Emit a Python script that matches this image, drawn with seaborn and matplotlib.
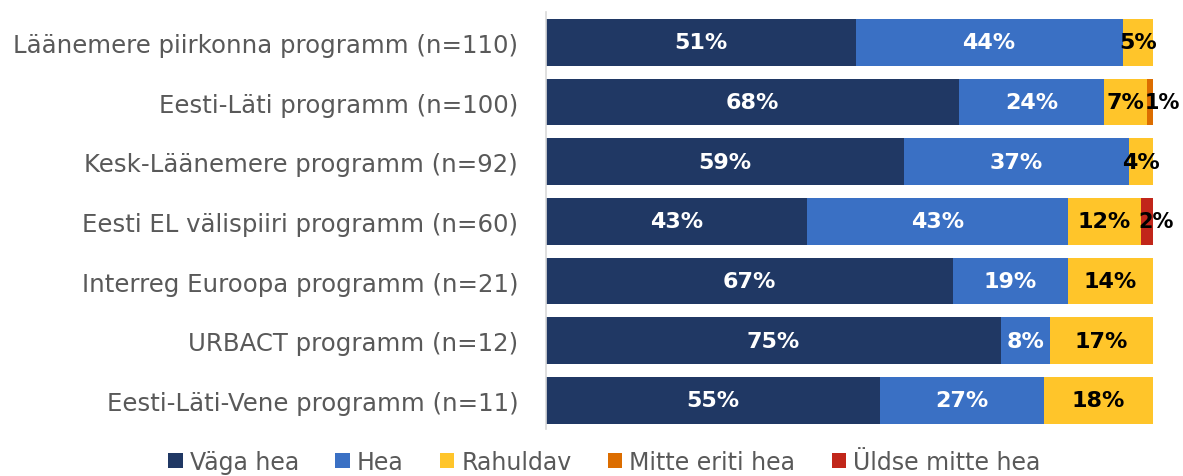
import pandas as pd
import matplotlib.pyplot as plt
import seaborn as sns
from matplotlib.patches import Patch

programmes = [
    'Läänemere piirkonna programm (n=110)',
    'Eesti-Läti programm (n=100)',
    'Kesk-Läänemere programm (n=92)',
    'Eesti EL välispiiri programm (n=60)',
    'Interreg Euroopa programm (n=21)',
    'URBACT programm (n=12)',
    'Eesti-Läti-Vene programm (n=11)',
]
categories = ['Väga hea', 'Hea', 'Rahuldav', 'Mitte eriti hea', 'Üldse mitte hea']
vaga_hea = [51, 68, 59, 43, 67, 75, 55]
hea = [44, 24, 37, 43, 19, 8, 27]
rahuldav = [5, 7, 4, 12, 14, 17, 18]
mitte_eriti_hea = [0, 1, 0, 0, 0, 0, 0]
uldse_mitte_hea = [0, 0, 0, 2, 0, 0, 0]

colors = ['#203864', '#3A70C4', '#FFC52A', '#DC6D00', '#C1261A']
text_colors = ['white', 'white', 'black', 'black', 'black']

series = [vaga_hea, hea, rahuldav, mitte_eriti_hea, uldse_mitte_hea]

sns.set_style('white')
plt.rcParams['font.family'] = ['DejaVu Sans']

fig = plt.figure(figsize=(11.83, 4.77), dpi=100)
ax = fig.add_axes([0.4615, 0.0985, 0.5131, 0.8742])

left = [0] * len(programmes)
for name, vals, col, tcol in zip(categories, series, colors, text_colors):
    df = pd.DataFrame({'programm': programmes, 'value': vals, 'left': left})
    sns.barplot(data=df, y='programm', x='value', left=df['left'], color=col,
                saturation=1, width=0.78, orient='h', ax=ax,
                edgecolor='none', linewidth=0)
    for i, (v, l) in enumerate(zip(vals, left)):
        if v <= 0:
            continue
        if v < 3:
            # tiny segments: label starts at the segment edge
            ax.text(l - 0.4, i, f'{v}%', ha='left', va='center', color=tcol,
                    fontsize=15, fontweight='bold')
        else:
            ax.text(l + v / 2, i, f'{v}%', ha='center', va='center', color=tcol,
                    fontsize=16, fontweight='bold')
    left = [a + b for a, b in zip(left, vals)]

ax.set_xlim(0, 100)
ax.set_ylim(6.48, -0.51)
ax.set_xlabel('')
ax.set_ylabel('')
ax.set_xticks([])
ax.tick_params(axis='y', length=0, pad=20, labelsize=17.6, labelcolor='#595959')
for s in ['top', 'right', 'bottom']:
    ax.spines[s].set_visible(False)
ax.spines['left'].set_color('#D9D9D9')
ax.spines['left'].set_linewidth(1.2)

handles = [Patch(facecolor=c, edgecolor='none') for c in colors]
fig.legend(handles, categories, loc='center', bbox_to_anchor=(0.511, 0.03),
           ncol=5, frameon=False, labelcolor='#595959', fontsize=17,
           handlelength=0.6, handleheight=0.6, handletextpad=0.3, columnspacing=1.55,
           borderpad=0.1)

fig.savefig('out.png', dpi=100)
